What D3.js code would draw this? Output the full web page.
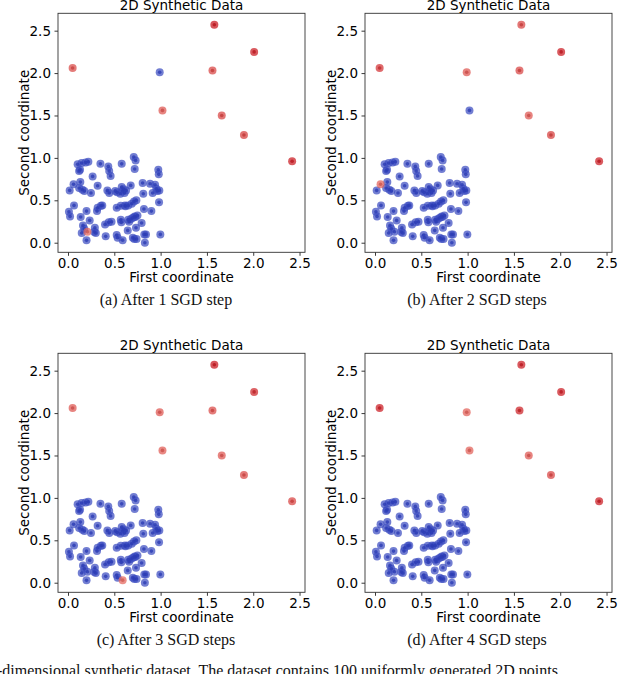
<!DOCTYPE html>
<html>
<head>
<meta charset="utf-8">
<script src="https://cdn.jsdelivr.net/npm/d3@7"></script>
<style>
  html, body { margin: 0; padding: 0; background: #fff; overflow: hidden; }
  svg { display: block; }
</style>
</head>
<body>
<svg id="chart" width="640" height="674"></svg>
<script>
// ---- Data ----
const clusterX = [0.104,0.148,0.19,0.22,0.13,0.12,0.35,0.435,0.445,0.46,0.58,0.71,0.73,0.72,0.975,0.98,0.266,
  0.133,0.018,0.12,0.155,0.176,0.248,0.32,0.425,0.446,0.53,0.58,0.59,0.61,0.565,0.627,0.677,0.806,0.813,0.886,0.94,0.954,0.965,0.986,0.914,
  0.065,0.01,0.022,0.137,0.2,0.32,0.356,0.313,0.526,0.57,0.616,0.65,0.688,0.713,0.738,0.82,0.9,0.983,
  0.234,0.162,0.176,0.148,0.29,0.284,0.3,0.2,0.4,0.47,0.407,0.526,0.536,0.57,0.576,0.66,0.645,0.68,0.70,0.727,0.65,0.734,0.795,0.7,0.716,0.74,0.824,0.842,0.83,0.997,
  0.60,0.72,0.62,0.37,0.51,0.75,0.44];
const clusterY = [0.924,0.94,0.947,0.955,0.86,0.845,0.93,0.90,0.845,0.786,0.93,1.01,0.97,0.87,0.86,0.806,0.782,
  0.715,0.617,0.645,0.625,0.609,0.586,0.672,0.617,0.586,0.594,0.656,0.609,0.586,0.578,0.617,0.676,0.704,0.578,0.696,0.684,0.637,0.609,0.617,0.586,
  0.44,0.366,0.31,0.303,0.373,0.413,0.436,0.373,0.413,0.436,0.44,0.44,0.46,0.487,0.5,0.397,0.373,0.476,
  0.263,0.204,0.165,0.114,0.177,0.126,0.114,0.028,0.216,0.248,0.075,0.09,0.059,0.27,0.24,0.248,0.145,0.28,0.295,0.303,0.27,0.177,0.232,0.059,0.043,0.043,0.098,0.098,0.0,0.098,
  0.63,0.31,0.43,0.44,0.61,0.32,0.24];

// special points (outliers + a few cluster points that get highlighted)
const specialX = [0.05, 0.99, 1.02, 1.56, 1.58, 1.66, 1.90, 2.01, 2.42, 0.21, 0.06, 0.59];
const specialY = [2.06, 2.01, 1.56, 2.03, 2.57, 1.50, 1.27, 2.25, 0.96, 0.13, 0.69, 0.03];
// red intensity per panel (0 = drawn blue like the cluster)
const weightA = [0.55, 0,    0.45, 0.6,  1.0,  0.6,  0.65, 0.95, 0.95, 0.3, 0,    0];
const weightB = [0.75, 0.45, 0,    0.6,  0.6,  0.45, 0.65, 0.95, 0.95, 0,   0.35, 0];
const weightC = [0.45, 0.45, 0.4,  0.55, 1.0,  0.45, 0.55, 0.85, 0.6,  0,   0,    0.3];
const weightD = [0.95, 0.35, 0.35, 0.9,  0.95, 0.45, 0.6,  0.95, 0.95, 0,   0,    0];

const tickValues = [0, 0.5, 1.0, 1.5, 2.0, 2.5];
const panelTitle = "2D Synthetic Data";
const xLabel = "First coordinate";
const yLabel = "Second coordinate";
const captions = ["(a) After 1 SGD step", "(b) After 2 SGD steps", "(c) After 3 SGD steps", "(d) After 4 SGD steps"];
const bottomText = "-dimensional synthetic dataset. The dataset contains 100 uniformly generated 2D points";

// ---- Drawing ----
const svg = d3.select("#chart");
const weights = [weightA, weightB, weightC, weightD];
const offsets = [[0, 0], [307, 0], [0, 340], [307, 340]];
const captionX = [166, 477, 166, 477];

const fLeft = 58, fRight = 305, fTop = 13.3, fBottom = 252.3;
const xDomain = [-0.108, 2.559];
const yDomain = [-0.113, 2.705];
const blue = "#3b4cc0", blueDark = "#2c3cb4";
const redScale = d3.interpolateRgb("#f08878", "#c8141c");
const font = "'DejaVu Sans', sans-serif";

const blueData = clusterX.map((x, i) => ({x, y: clusterY[i]}));

weights.forEach((w, p) => {
  const [ox, oy] = offsets[p];
  const g = svg.append("g").attr("transform", `translate(${ox},${oy})`);
  const x = d3.scaleLinear().domain(xDomain).range([fLeft, fRight]);
  const y = d3.scaleLinear().domain(yDomain).range([fBottom, fTop]);

  // axes
  const xa = g.append("g").attr("transform", `translate(0,${fBottom})`)
    .call(d3.axisBottom(x).tickValues(tickValues).tickFormat(d3.format(".1f")).tickSize(3.5).tickPadding(3));
  const ya = g.append("g").attr("transform", `translate(${fLeft},0)`)
    .call(d3.axisLeft(y).tickValues(tickValues).tickFormat(d3.format(".1f")).tickSize(3.5).tickPadding(3.5));
  [xa, ya].forEach(a => {
    a.select(".domain").remove();
    a.selectAll("line").attr("stroke", "#222").attr("stroke-width", 0.9);
    a.selectAll("text").attr("font-family", font).attr("font-size", 13.5).attr("fill", "#000");
  });

  // points: special ones that are blue in this panel join the cluster
  const pts = blueData.slice();
  const reds = [];
  specialX.forEach((sx, i) => {
    if (w[i] > 0) reds.push({x: sx, y: specialY[i], w: w[i]});
    else pts.push({x: sx, y: specialY[i]});
  });

  const drawPts = (data, colorOuter, colorInner) => {
    const pg = g.append("g");
    pg.selectAll("circle.o").data(data).join("circle")
      .attr("class", "o")
      .attr("cx", d => x(d.x)).attr("cy", d => y(d.y)).attr("r", 4)
      .attr("fill", colorOuter).attr("fill-opacity", 0.72);
    pg.selectAll("circle.i").data(data).join("circle")
      .attr("class", "i")
      .attr("cx", d => x(d.x)).attr("cy", d => y(d.y)).attr("r", 1.8)
      .attr("fill", colorInner).attr("fill-opacity", 0.8);
  };
  drawPts(pts, blue, blueDark);
  drawPts(reds, d => redScale(d.w), d => d3.rgb(redScale(d.w)).darker(0.3));

  // frame
  g.append("rect").attr("x", fLeft).attr("y", fTop)
    .attr("width", fRight - fLeft).attr("height", fBottom - fTop)
    .attr("fill", "none").attr("stroke", "#333").attr("stroke-width", 0.9);

  // title and labels
  g.append("text").attr("x", (fLeft + fRight) / 2).attr("y", fTop - 3.5)
    .attr("text-anchor", "middle").attr("font-family", font).attr("font-size", 13.5)
    .attr("fill", "#000").text(panelTitle);
  g.append("text").attr("x", (fLeft + fRight) / 2).attr("y", fBottom + 30)
    .attr("text-anchor", "middle").attr("font-family", font).attr("font-size", 13.5)
    .attr("fill", "#000").text(xLabel);
  g.append("text")
    .attr("transform", `translate(${fLeft - 29},${(fTop + fBottom) / 2}) rotate(-90)`)
    .attr("text-anchor", "middle").attr("font-family", font).attr("font-size", 13.5)
    .attr("fill", "#000").text(yLabel);

  // caption
  svg.append("text").attr("x", captionX[p]).attr("y", oy + 305)
    .attr("text-anchor", "middle").attr("font-family", "'Liberation Serif', 'Times New Roman', serif")
    .attr("font-size", 16).attr("fill", "#111").text(captions[p]);
});

svg.append("text").attr("x", -3).attr("y", 676)
  .attr("font-family", "'Liberation Serif', 'Times New Roman', serif")
  .attr("font-size", 16).attr("fill", "#111").text(bottomText);
</script>
</body>
</html>
